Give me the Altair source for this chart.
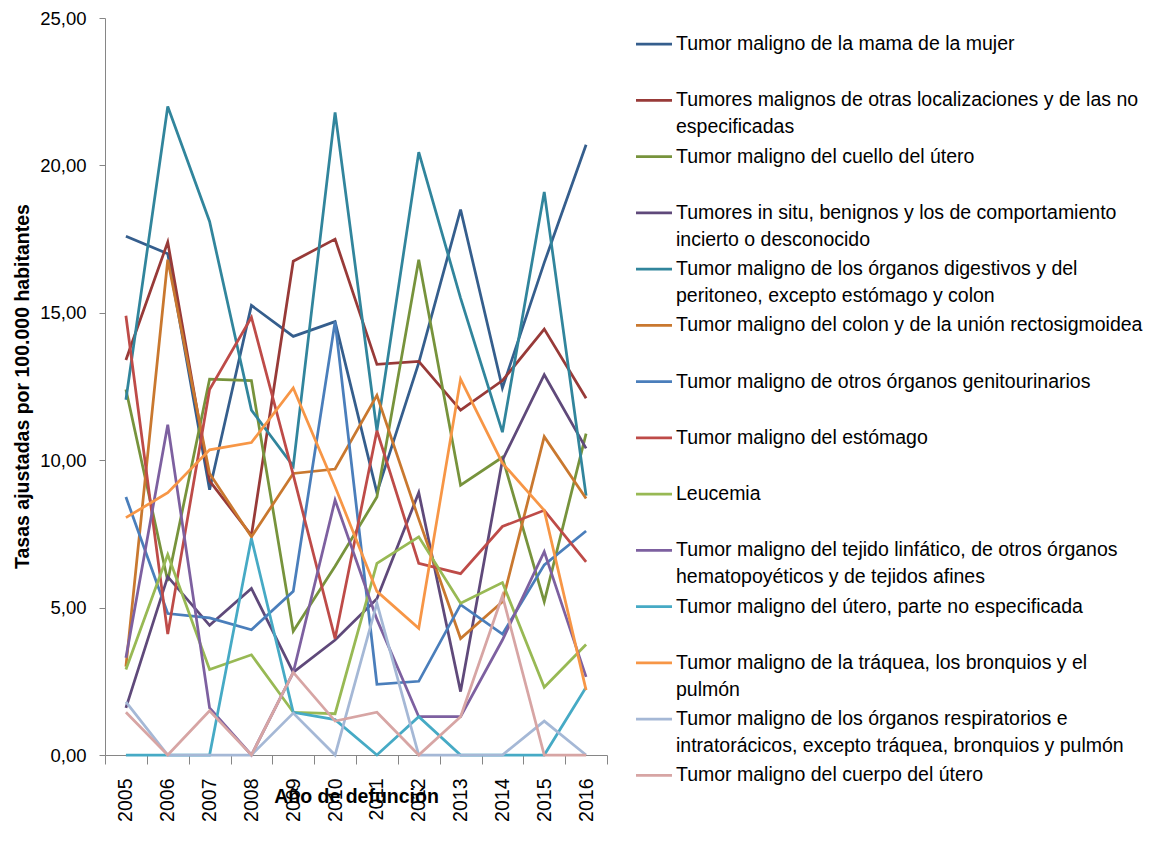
import altair as alt
import pandas as pd

FONT = "Liberation Sans"

years = [str(y) for y in range(2005, 2017)]

series_names = [
    "Tumor maligno de la mama de la mujer",
    "Tumores malignos de otras localizaciones y de las no\nespecificadas",
    "Tumor maligno del cuello del útero",
    "Tumores in situ, benignos y los de comportamiento\nincierto o desconocido",
    "Tumor maligno de los órganos digestivos y del\nperitoneo, excepto estómago y colon",
    "Tumor maligno del colon y de la unión rectosigmoidea",
    "Tumor maligno de otros órganos genitourinarios",
    "Tumor maligno del estómago",
    "Leucemia",
    "Tumor maligno del tejido linfático, de otros órganos\nhematopoyéticos y de tejidos afines",
    "Tumor maligno del útero, parte no especificada",
    "Tumor maligno de la tráquea, los bronquios y el\npulmón",
    "Tumor maligno de los órganos respiratorios e\nintratorácicos, excepto tráquea, bronquios y pulmón",
    "Tumor maligno del cuerpo del útero",
]

colors = [
    "#355E8D", "#983A38", "#77933C", "#5F497A", "#31859C", "#C9782F", "#4A7EBB",
    "#BE4B48", "#98B954", "#7D60A0", "#46AAC5", "#F79646", "#A5B8D6", "#D7A5A4",
]

mama = [17.6, 17.0, 9.0, 15.25, 14.2, 14.7, 8.9, 13.3, 18.5, 12.45, 16.7, 20.7]
otras = [13.4, 17.4, 9.3, 7.45, 16.75, 17.5, 13.25, 13.35, 11.7, 12.7, 14.45, 12.1]
cuello = [12.4, 5.9, 12.75, 12.7, 4.2, 6.4, 8.75, 16.8, 9.15, 10.1, 5.2, 10.9]
in_situ = [1.6, 6.05, 4.4, 5.65, 2.8, 3.9, 5.3, 8.9, 2.15, 10.0, 12.9, 10.4]
digestivos = [12.05, 22.0, 18.1, 11.7, 9.8, 21.8, 11.0, 20.45, 15.5, 10.95, 19.1, 8.8]
colon = [3.0, 16.8, 9.55, 7.4, 9.55, 9.7, 12.2, 8.0, 3.95, 5.2, 10.8, 8.7]
genitourinarios = [8.75, 4.8, 4.65, 4.25, 5.55, 14.7, 2.4, 2.5, 5.1, 4.1, 6.45, 7.6]
estomago = [14.9, 4.1, 12.4, 14.85, 9.5, 3.95, 11.0, 6.5, 6.15, 7.75, 8.3, 6.55]
leucemia = [2.9, 6.8, 2.9, 3.4, 1.45, 1.4, 6.5, 7.4, 5.15, 5.85, 2.3, 3.75]
linfatico = [3.3, 11.2, 1.6, 0.0, 2.8, 8.65, 4.6, 1.3, 1.3, 3.9, 6.9, 2.65]
utero_ne = [0.0, 0.0, 0.0, 7.35, 1.45, 1.2, 0.0, 1.3, 0.0, 0.0, 0.0, 2.3]
traquea = [8.05, 8.9, 10.35, 10.6, 12.45, 9.1, 5.55, 4.3, 12.75, 9.9, 8.3, 2.2]
respiratorios = [1.8, 0.0, 0.0, 0.0, 1.42, 0.0, 5.15, 0.0, 0.0, 0.0, 1.15, 0.0]
cuerpo_utero = [1.45, 0.0, 1.5, 0.0, 2.8, 1.15, 1.45, 0.0, 1.3, 5.4, 0.0, 0.0]

series_values = [
    mama, otras, cuello, in_situ, digestivos, colon, genitourinarios,
    estomago, leucemia, linfatico, utero_ne, traquea, respiratorios, cuerpo_utero,
]

rows = []
for i, (name, vals) in enumerate(zip(series_names, series_values)):
    for yr, v in zip(years, vals):
        rows.append({"serie": name, "anio": yr, "tasa": v, "orden": i})
df = pd.DataFrame(rows)

leg_df = pd.DataFrame({"serie": series_names, "idx": list(range(len(series_names)))})

color_scale = alt.Scale(domain=series_names, range=colors)
AXIS_GRAY = "#868686"

lines = alt.Chart(df).mark_line(strokeWidth=2.75).encode(
    x=alt.X(
        "anio:O",
        bandPosition=0.5,
        scale=alt.Scale(type="band", paddingInner=0, paddingOuter=0),
        axis=alt.Axis(
            title="Año de defunción",
            titleFont=FONT, titleFontSize=19.5, titleFontWeight="bold", titleColor="black",
            titleBaseline="top", titleY=32, titleX=251,
            labelFont=FONT, labelFontSize=19.5, labelColor="black",
            labelAngle=270, labelPadding=14,
            tickBand="extent", tickSize=9, tickColor=AXIS_GRAY,
            domainColor=AXIS_GRAY, grid=False,
        ),
    ),
    y=alt.Y(
        "tasa:Q",
        scale=alt.Scale(domain=[0, 25], nice=False),
        axis=alt.Axis(
            title="Tasas ajustadas por 100.000 habitantes",
            titleFont=FONT, titleFontSize=19.5, titleFontWeight="bold", titleColor="black",
            titleAngle=270, titleX=-83, titleY=368, titleBaseline="middle",
            values=[0, 5, 10, 15, 20, 25],
            labelExpr="replace(format(datum.value, '.2f'), '.', ',')",
            labelFont=FONT, labelFontSize=18.5, labelColor="black", labelPadding=13,
            tickSize=6, tickColor=AXIS_GRAY, domainColor=AXIS_GRAY, grid=False,
        ),
    ),
    color=alt.Color("serie:N", scale=color_scale, legend=None),
    order=alt.Order("orden:Q"),
)

leg_y = alt.Y("idx:Q", scale=alt.Scale(domain=[0, 13], range=[26, 757.25]), axis=None)

leg_rules = alt.Chart(leg_df).mark_rule(strokeWidth=2.75).encode(
    x=alt.value(531),
    x2=alt.value(567),
    y=leg_y,
    color=alt.Color("serie:N", scale=color_scale, legend=None),
)

leg_text = alt.Chart(leg_df).mark_text(
    align="left", baseline="top", dy=-9, font=FONT, fontSize=19.5,
    lineHeight=27, lineBreak="\n", color="black",
).encode(
    x=alt.value(571),
    y=leg_y,
    text="serie:N",
)

chart = alt.layer(lines, leg_rules, leg_text).resolve_scale(y="independent").properties(
    width=502,
    height=737,
    padding={"left": 97, "top": 10, "right": 536, "bottom": 80},
    autosize=alt.AutoSizeParams(type="none"),
    background="white",
).configure_view(stroke=None)

chart.save("out.html", embed_options={"renderer": "svg", "actions": False})
